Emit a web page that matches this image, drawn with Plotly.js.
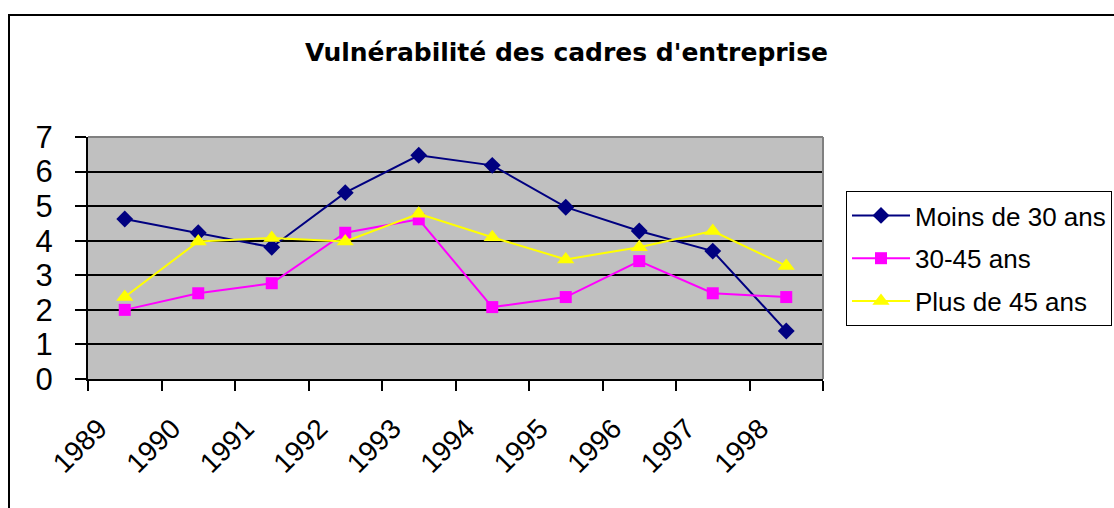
<!DOCTYPE html>
<html>
<head>
<meta charset="utf-8">
<script src="https://cdn.plot.ly/plotly-3.0.1.min.js"></script>
<style>
html,body{margin:0;padding:0;background:#fff;}
#chart{width:1114px;height:508px;}
</style>
</head>
<body>
<div id="chart"></div>
<script>
const years = ["1989","1990","1991","1992","1993","1994","1995","1996","1997","1998"];
const moins30 = [4.63, 4.23, 3.81, 5.39, 6.47, 6.18, 4.97, 4.28, 3.70, 1.39];
const de30a45 = [2.00, 2.48, 2.77, 4.23, 4.62, 2.08, 2.37, 3.41, 2.48, 2.37];
const plus45 = [2.37, 3.98, 4.08, 3.98, 4.78, 4.10, 3.46, 3.81, 4.28, 3.27];
const seriesNames = ["Moins de 30 ans", "30-45 ans", "Plus de 45 ans"];
const yTicks = [0,1,2,3,4,5,6,7];

const W = 1114, H = 508;
const L = 88, R = 823, T = 137, B = 379;
const pw = R - L, ph = B - T;
const px = x => (x - L) / pw;
const py = y => (B - y) / ph;

const font = "Liberation Sans, Arial, sans-serif";

const traces = [
  {x: years, y: moins30, name: seriesNames[0], type: "scatter", mode: "lines+markers",
   line: {color: "#000080", width: 2}, marker: {symbol: "diamond", size: 13, color: "#000080"}, legendgroup: "a"},
  {x: years, y: de30a45, name: seriesNames[1], type: "scatter", mode: "lines+markers",
   line: {color: "#FF00FF", width: 2}, marker: {symbol: "square", size: 12, color: "#FF00FF"}, legendgroup: "b"},
  {x: years, y: plus45, name: seriesNames[2], type: "scatter", mode: "lines+markers",
   line: {color: "#FFFF00", width: 2}, marker: {symbol: "triangle-up", size: 15, color: "#FFFF00"}, legendgroup: "c"}
];

const layout = {
  width: W, height: H,
  margin: {l: L, r: W - R, t: T, b: H - B, pad: 0, autoexpand: false},
  paper_bgcolor: "#ffffff",
  plot_bgcolor: "#C0C0C0",
  title: {text: "Vulnérabilité des cadres d'entreprise",
          font: {family: "DejaVu Sans, Verdana, sans-serif", size: 25, color: "#000", weight: "bold"},
          xref: "container", yref: "container", x: 566.5 / W, y: 1 - 52 / H,
          xanchor: "center", yanchor: "middle"},
  xaxis: {type: "category", range: [-0.5, 9.5], tickson: "boundaries",
          ticks: "outside", ticklen: 10, tickwidth: 2, tickcolor: "#000",
          ticklabelstandoff: 20, ticklabelshift: -26,
          showline: true, linecolor: "#000", linewidth: 2,
          showgrid: false, zeroline: false, tickangle: -45, automargin: false,
          tickfont: {family: font, size: 28, color: "#000"}, fixedrange: true},
  yaxis: {range: [0, 7], tickvals: yTicks, ticktext: yTicks.map(String),
          ticks: "outside", ticklen: 11, tickwidth: 2, tickcolor: "#000",
          ticklabelstandoff: 16, automargin: false,
          showline: true, linecolor: "#000", linewidth: 2,
          showgrid: true, gridcolor: "#000", gridwidth: 2, zeroline: false,
          tickfont: {family: font, size: 31, color: "#000"}, fixedrange: true},
  showlegend: true,
  legend: {x: px(846), y: py(191), xanchor: "left", yanchor: "top",
           bgcolor: "#fff", bordercolor: "#000", borderwidth: 1,
           font: {family: font, size: 26, color: "#000"},
           itemwidth: 58, tracegroupgap: 6, traceorder: "grouped"},
  shapes: [
    {type: "line", xref: "paper", yref: "paper", x0: 0, x1: 1, y0: 1, y1: 1,
     line: {color: "#808080", width: 2}, layer: "above"},
    {type: "line", xref: "paper", yref: "paper", x0: 1, x1: 1, y0: 0, y1: 1,
     line: {color: "#808080", width: 2}, layer: "above"},
    {type: "rect", xref: "paper", yref: "paper", x0: px(9), x1: px(1130), y0: py(15), y1: py(530),
     line: {color: "#000", width: 2}, fillcolor: "rgba(0,0,0,0)", layer: "below"}
  ]
};

Plotly.newPlot("chart", traces, layout, {displayModeBar: false, staticPlot: true});
</script>
</body>
</html>
